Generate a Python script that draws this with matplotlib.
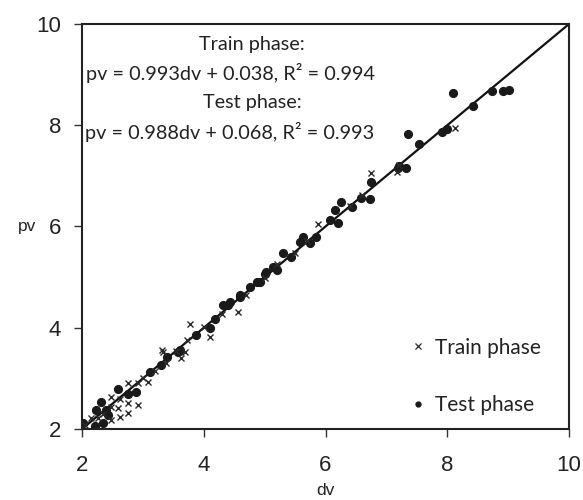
import matplotlib
matplotlib.use("Agg")
import matplotlib.pyplot as plt
from matplotlib.lines import Line2D

# ---- data ----
train_dv = [2.15, 2.26, 2.47, 2.62, 2.76, 2.59, 2.76, 2.92, 2.48, 2.48, 2.76, 2.92, 3.08, 3.38,
            3.33, 3.31, 3.69, 3.72, 3.77, 4.10, 4.56, 5.88, 6.74, 7.17, 2.05, 2.35, 2.62, 3.00,
            3.20, 3.55, 4.00, 4.30, 4.70, 5.00, 5.20, 5.50, 5.70, 6.40, 6.60, 7.20, 8.12, 3.62]
train_pv = [2.21, 2.21, 2.18, 2.23, 2.31, 2.41, 2.52, 2.47, 2.44, 2.64, 2.90, 2.90, 2.93, 3.30,
            3.52, 3.56, 3.52, 3.76, 4.08, 3.81, 4.31, 6.04, 7.05, 7.07, 2.08, 2.30, 2.60, 3.00,
            3.15, 3.55, 4.02, 4.28, 4.65, 4.98, 5.25, 5.48, 5.72, 6.40, 6.62, 7.22, 7.94, 3.40]

test_dv = [2.02, 2.21, 2.34, 2.43, 2.23, 2.40, 2.32, 2.59, 2.76, 2.89, 3.11, 3.30, 3.39, 3.58,
           3.61, 3.88, 4.10, 4.18, 4.40, 4.59, 4.76, 4.87, 5.00, 4.32, 4.43, 4.59, 4.92, 5.03,
           5.14, 5.31, 5.44, 5.58, 5.74, 5.63, 6.07, 6.20, 6.15, 6.25, 6.43, 6.59, 6.73, 6.74,
           7.19, 7.33, 7.21, 7.35, 7.53, 7.91, 7.99, 8.10, 8.42, 8.73, 8.91, 9.01, 5.20, 5.85]
test_pv = [2.11, 2.05, 2.11, 2.28, 2.37, 2.37, 2.54, 2.80, 2.70, 2.74, 3.13, 3.26, 3.43, 3.52,
           3.56, 3.85, 3.99, 4.18, 4.45, 4.61, 4.81, 4.91, 5.07, 4.45, 4.51, 4.64, 4.91, 5.10,
           5.20, 5.47, 5.40, 5.69, 5.67, 5.79, 6.12, 6.06, 6.32, 6.48, 6.38, 6.56, 6.54, 6.88,
           7.16, 7.15, 7.19, 7.82, 7.62, 7.86, 7.92, 8.63, 8.38, 8.67, 8.67, 8.70, 5.15, 5.80]

ticks = [2, 4, 6, 8, 10]
train_label = "Train phase"
test_label = "Test phase"
train_title = "Train phase:"
train_eq = "pv = 0.993dv + 0.038, R² = 0.994"
test_title = "Test phase:"
test_eq = "pv = 0.988dv + 0.068, R² = 0.993"

plt.rcParams["font.family"] = ["Liberation Sans", "DejaVu Sans"]
TXT = ["Lato", "DejaVu Sans"]
INK = "#222222"

fig = plt.figure(figsize=(5.83, 5.0), dpi=100)
ax = fig.add_axes([82/583, 1-429/500, (569-82)/583, (429-24)/500])

ax.plot([2, 10], [2, 10], color="#111111", lw=1.6, zorder=1)
ax.plot(test_dv, test_pv, ls="none", marker="o", ms=5.6, color="#1a1a1a", zorder=2)
ax.plot(train_dv, train_pv, ls="none", marker="x", ms=4.5, mew=1.0, color="#2a2a2a", zorder=3)

ax.set_xlim(2, 10)
ax.set_ylim(2, 10)
ax.set_xticks(ticks)
ax.set_yticks(ticks)
ax.tick_params(direction="out", length=6, width=1.0, color="#333333",
               labelsize=16, labelcolor=INK)
ax.tick_params(axis="x", pad=12.5)
ax.tick_params(axis="y", pad=9)
for s in ax.spines.values():
    s.set_linewidth(1.5)
    s.set_color(INK)

ax.set_xlabel("dv", fontsize=12.5, labelpad=5, color=INK)
fig.text(27/583, 1-226/500, "pv", fontsize=12.5, ha="center", va="center", color=INK)

def fx(px):
    return (px - 82) / 487

def fy(py):
    return (429 - py) / 405

ax.text(fx(252), fy(45), train_title, transform=ax.transAxes, ha="center", va="center",
        family=TXT, fontsize=14.3, color=INK)
ax.text(fx(230), fy(73), train_eq, transform=ax.transAxes, ha="center", va="center",
        family=TXT, fontsize=14.3, color=INK)
ax.text(fx(252), fy(103), test_title, transform=ax.transAxes, ha="center", va="center",
        family=TXT, fontsize=14.3, color=INK)
ax.text(fx(230), fy(132), test_eq, transform=ax.transAxes, ha="center", va="center",
        family=TXT, fontsize=14.3, color=INK)

handles = [Line2D([], [], ls="none", marker="x", ms=4, mew=0.9, color="#2a2a2a"),
           Line2D([], [], ls="none", marker="o", ms=3.5, color="#1a1a1a")]
leg = ax.legend(handles, [train_label, test_label], loc="lower left", frameon=False,
                bbox_to_anchor=(fx(412), fy(415)), borderaxespad=0, borderpad=0,
                prop={"family": TXT, "size": 15}, labelspacing=1.8, handlelength=0.6,
                handletextpad=0.5)
for t in leg.get_texts():
    t.set_color(INK)

fig.savefig("out.png", dpi=100)
